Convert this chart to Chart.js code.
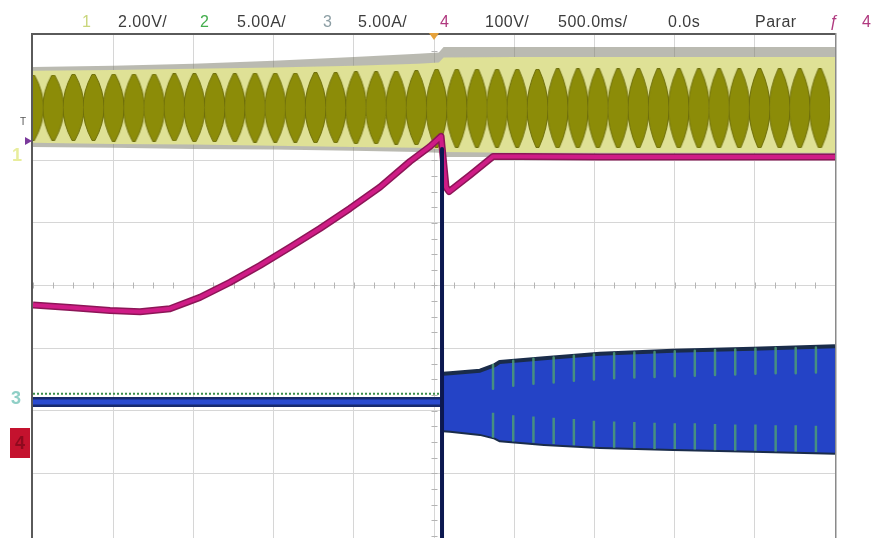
<!DOCTYPE html>
<html>
<head>
<meta charset="utf-8">
<script src="https://cdn.jsdelivr.net/npm/chart.js@4.4.1/dist/chart.umd.min.js"></script>
<style>
  html, body { margin:0; padding:0; background:#ffffff; width:873px; height:538px; overflow:hidden; }
  #wrap { position:relative; width:873px; height:538px; }
  #c { position:absolute; left:0; top:0; }
  .h { position:absolute; top:13.5px; font-family:"Liberation Sans", Arial, sans-serif; font-size:16px; line-height:16px; letter-spacing:0.5px; color:#3c3c3c; white-space:nowrap; }
  .m { position:absolute; font-family:"Liberation Sans", Arial, sans-serif; white-space:nowrap; }
</style>
</head>
<body>
<div id="wrap">
  <canvas id="c" width="873" height="538"></canvas>
  <span class="h" style="left:82px;color:#c9d67c;">1</span>
  <span class="h" style="left:118px;">2.00V/</span>
  <span class="h" style="left:200px;color:#43ad4c;">2</span>
  <span class="h" style="left:237px;">5.00A/</span>
  <span class="h" style="left:323px;color:#8c9ea4;">3</span>
  <span class="h" style="left:358px;">5.00A/</span>
  <span class="h" style="left:440px;color:#b0397f;">4</span>
  <span class="h" style="left:485px;">100V/</span>
  <span class="h" style="left:558px;">500.0ms/</span>
  <span class="h" style="left:668px;">0.0s</span>
  <span class="h" style="left:755px;">Parar</span>
  <span class="h" style="left:829px;color:#b0397f;font-style:italic;">ƒ</span>
  <span class="h" style="left:862px;color:#b0397f;">4</span>
  <span class="m" style="left:20px;top:116px;font-size:10px;color:#555;">T</span>
  <span class="m" style="left:12px;top:145px;font-size:18px;font-weight:bold;color:#e8ed9c;">1</span>
  <span class="m" style="left:11px;top:388px;font-size:18px;font-weight:bold;color:#8fcfc6;">3</span>
  <span class="m" style="left:10px;top:428px;width:20px;height:30px;background:#c4122e;color:#8e0a1e;font-size:18px;font-weight:bold;text-align:center;line-height:30px;">4</span>
</div>
<script>
// ---- axes (500.0 ms/div horizontally, 8 vertical divisions) ----
const timeTicks = [-2.0, -1.5, -1.0, -0.5, 0.0, 0.5, 1.0, 1.5, 2.0];
const divTicks  = [1, 2, 3, 4, 5, 6, 7];

// ---- channel 1 (2.00 V/div) : envelope of the AC band, in divisions ----
const ch1EnvT    = [-2.5, -2.0, -1.5, -1.0, -0.5, -0.1, 0.03, 0.06, 0.5, 1.0, 1.5, 2.0, 2.5];
const ch1NoiseHi = [7.49, 7.51, 7.54, 7.59, 7.65, 7.70, 7.72, 7.81, 7.81, 7.81, 7.81, 7.81, 7.81];
const ch1LightHi = [7.43, 7.44, 7.46, 7.48, 7.51, 7.54, 7.56, 7.64, 7.65, 7.65, 7.65, 7.65, 7.65];
const ch1LightLo = [6.28, 6.26, 6.25, 6.23, 6.21, 6.20, 6.18, 6.13, 6.12, 6.12, 6.12, 6.12, 6.12];
const ch1NoiseLo = [6.21, 6.20, 6.18, 6.17, 6.15, 6.13, 6.12, 6.05, 6.05, 6.05, 6.05, 6.05, 6.05];
// lobes of the aliased AC waveform (centre time, top and bottom of each lobe)
const ch1LobeT = [-2.500, -2.374, -2.248, -2.123, -1.997, -1.871, -1.745, -1.619, -1.494, -1.368,
                  -1.242, -1.116, -0.990, -0.865, -0.739, -0.613, -0.487, -0.361, -0.236, -0.110,
                   0.016,  0.142,  0.268,  0.393,  0.519,  0.645,  0.771,  0.897,  1.022,  1.148,
                   1.274,  1.400,  1.526,  1.651,  1.777,  1.903,  2.029,  2.155,  2.280,  2.406, 2.532];
const ch1LobeHi = [7.37, 7.37, 7.38, 7.38, 7.38, 7.38, 7.38, 7.39, 7.39, 7.39,
                   7.39, 7.40, 7.40, 7.40, 7.41, 7.41, 7.42, 7.42, 7.43, 7.44,
                   7.46, 7.46, 7.46, 7.46, 7.46, 7.46, 7.47, 7.47, 7.47, 7.47,
                   7.47, 7.47, 7.47, 7.47, 7.47, 7.47, 7.47, 7.47, 7.47, 7.47, 7.47];
const ch1LobeLo = [6.31, 6.31, 6.31, 6.31, 6.30, 6.30, 6.30, 6.30, 6.29, 6.29,
                   6.29, 6.28, 6.28, 6.28, 6.27, 6.27, 6.26, 6.26, 6.25, 6.24,
                   6.20, 6.20, 6.20, 6.20, 6.20, 6.20, 6.19, 6.19, 6.19, 6.19,
                   6.19, 6.19, 6.19, 6.19, 6.19, 6.19, 6.19, 6.19, 6.19, 6.19, 6.19];

// ---- channel 4 (100 V/div) : magenta trace ----
const ch4T = [-2.5, -2.269, -2.020, -1.833, -1.646, -1.459, -1.272, -1.085, -0.898, -0.711, -0.524, -0.337,
              -0.150, -0.025, 0.044, 0.075, 0.094, 0.224, 0.368, 0.536, 1.035, 1.658, 2.5];
const ch4V = [3.69, 3.65, 3.60, 3.58, 3.63, 3.81, 4.05, 4.32, 4.61, 4.91, 5.23, 5.57,
              5.98, 6.22, 6.38, 5.57, 5.50, 5.76, 6.06, 6.06, 6.05, 6.05, 6.05];

// ---- channel 3 (5.00 A/div) : blue trace ----
const ch3FlatT  = [-2.5, 0.046];
const ch3FlatV  = [2.14, 2.14];
const ch3SpikeT = [0.050, 0.050];
const ch3SpikeV = [6.18, -0.10];
const ch3BandT  = [0.056, 0.100, 0.287, 0.380, 0.410, 0.686, 1.035, 1.490, 1.989, 2.5];
const ch3BandHi = [2.59, 2.60, 2.64, 2.73, 2.78, 2.84, 2.91, 2.96, 2.99, 3.03];
const ch3BandLo = [1.69, 1.68, 1.63, 1.57, 1.53, 1.47, 1.42, 1.39, 1.36, 1.33];

// ---- channel 2 (5.00 A/div) : green trace ----
const ch2DotT = [-2.5, 0.046];
const ch2DotV = [2.27, 2.27];
const ch2SpikeT   = [0.368, 0.494, 0.620, 0.746, 0.872, 0.997, 1.123, 1.249, 1.375, 1.501, 1.626, 1.752, 1.878, 2.004, 2.130, 2.255, 2.381];
const ch2TopBase  = [2.73, 2.80, 2.83, 2.85, 2.88, 2.90, 2.92, 2.93, 2.94, 2.95, 2.96, 2.97, 2.98, 2.99, 3.00, 3.00, 3.01];
const ch2TopTip   = [2.35, 2.40, 2.43, 2.45, 2.48, 2.50, 2.52, 2.53, 2.54, 2.55, 2.56, 2.57, 2.58, 2.59, 2.60, 2.60, 2.61];
const ch2BotBase  = [1.57, 1.51, 1.49, 1.47, 1.45, 1.42, 1.41, 1.40, 1.39, 1.39, 1.38, 1.37, 1.36, 1.36, 1.35, 1.35, 1.34];
const ch2BotTip   = [1.97, 1.93, 1.91, 1.89, 1.87, 1.84, 1.83, 1.82, 1.81, 1.80, 1.80, 1.79, 1.78, 1.78, 1.77, 1.77, 1.76];

// ---------- build datasets ----------
const pts = (xs, ys) => xs.map((t, i) => ({ x: t, y: ys[i] }));
function spikes(ts, a, b) {
  const out = [];
  ts.forEach((t, i) => { out.push({ x: t, y: a[i] }); out.push({ x: t, y: b[i] }); out.push({ x: t, y: null }); });
  return out;
}
// lens-shaped sprite for one lobe, sized from the scale
const lobeCache = {};
function lobeSprite(w, h) {
  const key = w + 'x' + h;
  if (lobeCache[key]) return lobeCache[key];
  const c = document.createElement('canvas');
  c.width = w; c.height = h;
  const g = c.getContext('2d');
  const cx = w / 2;
  g.fillStyle = '#8c8c08';
  g.strokeStyle = '#6f6f0c';
  g.lineWidth = 1;
  g.beginPath();
  g.moveTo(cx - 1.5, 0.5);
  g.lineTo(cx + 1.5, 0.5);
  g.quadraticCurveTo(cx + 1.5 + (w - 3), h / 2, cx + 1.5, h - 0.5);
  g.lineTo(cx - 1.5, h - 0.5);
  g.quadraticCurveTo(cx - 1.5 - (w - 3), h / 2, cx - 1.5, 0.5);
  g.closePath();
  g.fill();
  g.stroke();
  lobeCache[key] = c;
  return c;
}
const ds = [];
function add(o) {
  ds.push(Object.assign({ type: 'line', pointRadius: 0, pointHoverRadius: 0, borderWidth: 0, tension: 0, fill: false,
    spanGaps: false, borderJoinStyle: 'round', borderCapStyle: 'butt' }, o));
  return ds.length - 1;
}

// channel 1 band
const iNL = add({ data: pts(ch1EnvT, ch1NoiseLo), order: 100 });
add({ data: pts(ch1EnvT, ch1NoiseHi), fill: iNL, backgroundColor: 'rgba(118,118,100,0.5)', order: 100 });
const iLL = add({ data: pts(ch1EnvT, ch1LightLo), order: 90 });
add({ data: pts(ch1EnvT, ch1LightHi), fill: iLL, backgroundColor: '#dfe196', order: 90 });
add({
  data: ch1LobeT.map((t, i) => ({ x: t, y: (ch1LobeHi[i] + ch1LobeLo[i]) / 2 })),
  showLine: false, pointRadius: 1, order: 80,
  pointStyle: (ctx) => {
    if (ctx.dataIndex === undefined) return 'circle';
    const ys = ctx.chart.scales.y, xs = ctx.chart.scales.x;
    const i = ctx.dataIndex;
    const h = Math.max(4, Math.round(ys.getPixelForValue(ch1LobeLo[i]) - ys.getPixelForValue(ch1LobeHi[i])));
    const w = Math.round(xs.getPixelForValue(ch1LobeT[1]) - xs.getPixelForValue(ch1LobeT[0])) + 1;
    return lobeSprite(w, h);
  }
});

// channel 2 / 3 : left flat part
add({ data: pts(ch3FlatT, ch3FlatV), borderWidth: 10, borderColor: '#172a6e', order: 60 });
add({ data: pts(ch3FlatT, ch3FlatV), borderWidth: 5, borderColor: '#2a4bd0', order: 59 });
add({ data: pts(ch2DotT, ch2DotV), borderWidth: 2, borderColor: '#3a8d4a', borderDash: [2, 2], order: 58 });

// channel 3 band after the switch
const iBL = add({ data: pts(ch3BandT, ch3BandLo), borderWidth: 4, borderColor: '#1a2c4a', order: 52 });
add({ data: pts(ch3BandT, ch3BandHi), fill: iBL, backgroundColor: '#2443c6', borderWidth: 4, borderColor: '#1a2c4a', order: 51 });
// channel 2 lobes inside the band
add({ data: spikes(ch2SpikeT, ch2TopBase, ch2TopTip), borderWidth: 2.5, borderColor: 'rgba(76,156,116,0.85)', order: 45 });
add({ data: spikes(ch2SpikeT, ch2BotBase, ch2BotTip), borderWidth: 2.5, borderColor: 'rgba(76,156,116,0.85)', order: 45 });

// channel 4 magenta
add({ data: pts(ch4T, ch4V), borderWidth: 7, borderColor: '#8c1657', order: 30 });
add({ data: pts(ch4T, ch4V), borderWidth: 4, borderColor: '#cf1c86', order: 29 });

// switching spike of channel 3
add({ data: pts(ch3SpikeT, ch3SpikeV), borderWidth: 4, borderColor: '#0c1850', order: 10 });

// ---------- decorations drawn through the scales ----------
const decor = {
  id: 'decor',
  beforeDatasetsDraw(chart) {
    const { ctx, scales: { x, y } } = chart;
    ctx.save();
    ctx.strokeStyle = '#b4b4b4';
    ctx.lineWidth = 1;
    const cx = Math.round(x.getPixelForValue(0)) + 0.5;
    const cy = Math.round(y.getPixelForValue(4)) + 0.5;
    ctx.beginPath();
    for (let k = 0; k <= 40; k++) {
      const px = Math.round(x.getPixelForValue(-2.5 + k * 0.125)) + 0.5;
      ctx.moveTo(px, cy - 3); ctx.lineTo(px, cy + 3);
    }
    for (let k = 0; k <= 32; k++) {
      const py = Math.round(y.getPixelForValue(k * 0.25)) + 0.5;
      ctx.moveTo(cx - 3, py); ctx.lineTo(cx + 3, py);
    }
    ctx.stroke();
    ctx.restore();
  },
  afterDatasetsDraw(chart) {
    const { ctx, chartArea: a, scales: { x } } = chart;
    ctx.save();
    ctx.fillStyle = '#5a5a5a';
    ctx.fillRect(a.left - 2, a.top - 2, a.right - a.left + 3, 2);   // top frame
    ctx.fillRect(a.left - 2, a.top - 2, 2, a.bottom - a.top + 2);    // left frame
    ctx.fillStyle = '#8a8a8a';
    ctx.fillRect(a.right, a.top - 2, 1.5, a.bottom - a.top + 2);     // right frame
    // trigger position marker
    const tx = x.getPixelForValue(0);
    ctx.fillStyle = '#e6a23a';
    ctx.beginPath();
    ctx.moveTo(tx - 5, a.top - 2); ctx.lineTo(tx + 5, a.top - 2); ctx.lineTo(tx, a.top + 5);
    ctx.closePath(); ctx.fill();
    // channel 4 ground marker
    ctx.fillStyle = '#7b3a9c';
    ctx.beginPath();
    ctx.moveTo(a.left - 8, 137); ctx.lineTo(a.left - 1, 141); ctx.lineTo(a.left - 8, 145);
    ctx.closePath(); ctx.fill();
    ctx.restore();
  }
};

new Chart(document.getElementById('c'), {
  type: 'line',
  data: { datasets: ds },
  options: {
    responsive: false,
    animation: false,
    devicePixelRatio: 1,
    layout: { autoPadding: false, padding: { left: 33, right: 38, top: 35, bottom: 0 } },
    plugins: { legend: { display: false }, tooltip: { enabled: false }, filler: { propagate: false } },
    scales: {
      x: {
        type: 'linear', min: -2.5, max: 2.5, offset: false,
        afterBuildTicks: s => { s.ticks = timeTicks.map(v => ({ value: v })); },
        ticks: { display: false },
        grid: { color: '#d6d6d6', lineWidth: 1, drawTicks: false, offset: false },
        border: { display: false }
      },
      y: {
        type: 'linear', min: -0.032, max: 8,
        afterBuildTicks: s => { s.ticks = divTicks.map(v => ({ value: v })); },
        ticks: { display: false },
        grid: { color: '#d6d6d6', lineWidth: 1, drawTicks: false },
        border: { display: false }
      }
    }
  },
  plugins: [decor]
});
</script>
</body>
</html>
